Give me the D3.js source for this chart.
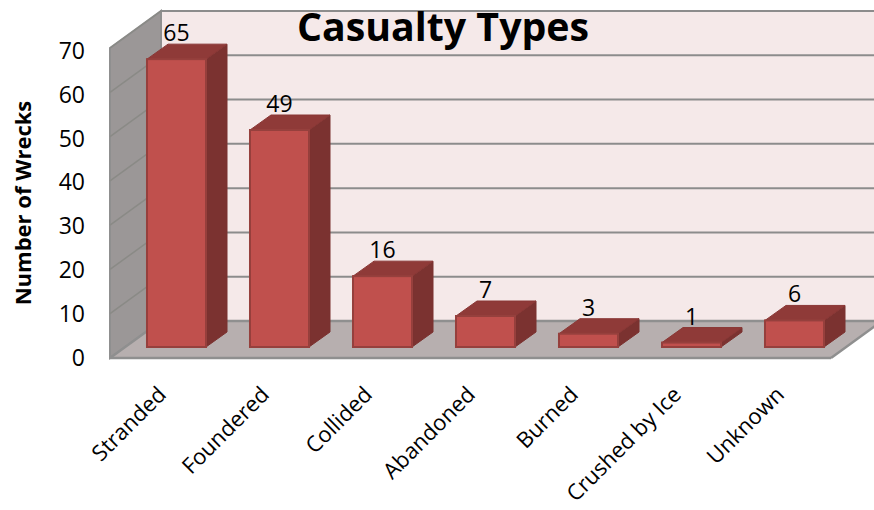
<!DOCTYPE html>
<html>
<head>
<meta charset="utf-8">
<script src="https://cdn.jsdelivr.net/npm/d3@7/dist/d3.min.js"></script>
<style>html,body{margin:0;padding:0;background:#fff}svg{display:block}text{font-family:"Open Sans",Lato,sans-serif;fill:#000}</style>
</head>
<body>
<svg id="c" width="874" height="510"></svg>
<script>
const categories = ["Stranded","Foundered","Collided","Abandoned","Burned","Crushed by Ice","Unknown"];
const wrecks = [65,49,16,7,3,1,6];
const yTicks = [0,10,20,30,40,50,60,70];
const chartTitle = "Casualty Types";
const yTitle = "Number of Wrecks";

const svg = d3.select("#c");
const y = d3.scaleLinear().domain([0,70]).range([358,48]);
const yLabels = d3.scaleLinear().domain([0,70]).range([358,51]);
const x = d3.scaleBand().domain(categories).range([110,831]).paddingInner(0.427).paddingOuter(0.2135);
const DX = 51, DY = -37;            // depth of the 3D box
const BX = 15, BY = -11;            // bar front inset from floor front edge
const DBX = 21, DBY = -15;          // bar depth
const WALL_RIGHT = 882;
const pts = a => a.map(p => p.join(",")).join(" ");
const y0 = y(0), yMax = y(70);

// back wall
svg.append("polygon").attr("points", pts([[110+DX,yMax+DY],[WALL_RIGHT,yMax+DY],[WALL_RIGHT,y0+DY],[110+DX,y0+DY]]))
  .attr("fill","#f5e9e9").attr("stroke","#a6a6a6").attr("stroke-width",2);
// side wall
svg.append("polygon").attr("points", pts([[110,yMax],[110+DX,yMax+DY],[110+DX,y0+DY],[110,y0]]))
  .attr("fill","#9b9797").attr("stroke","#8f8f8f").attr("stroke-width",2);
// floor
svg.append("polygon").attr("points", pts([[110,y0],[831,y0],[831+DX,y0+DY],[110+DX,y0+DY]]))
  .attr("fill","#b7afaf");
// gridlines
svg.append("g").selectAll("line.back").data(yTicks.filter(d=>d>0)).join("line")
  .attr("x1",110+DX).attr("x2",WALL_RIGHT).attr("y1",d=>y(d)+DY).attr("y2",d=>y(d)+DY)
  .attr("stroke","#8c8c8c").attr("stroke-width",2);
svg.append("g").selectAll("line.side").data(yTicks.filter(d=>d>0)).join("line")
  .attr("x1",110).attr("x2",110+DX).attr("y1",d=>y(d)).attr("y2",d=>y(d)+DY)
  .attr("stroke","#8a8a86").attr("stroke-width",1.5);
// floor edges
const edges=[[[110,y0],[831,y0]],[[831,y0],[831+DX,y0+DY]],[[110,y0],[110+DX,y0+DY]],[[110+DX,y0+DY],[WALL_RIGHT,y0+DY]]];
svg.append("g").selectAll("line").data(edges).join("line")
  .attr("x1",d=>d[0][0]).attr("y1",d=>d[0][1]).attr("x2",d=>d[1][0]).attr("y2",d=>d[1][1])
  .attr("stroke","#8f8f8f").attr("stroke-width",2.5);

// bars
const bars = svg.append("g").selectAll("g").data(categories.map((c,i)=>({c,v:wrecks[i]}))).join("g");
const bw = x.bandwidth();
const L = d=>x(d.c)+BX, R = d=>L(d)+bw, T = d=>y(d.v)+BY, B = y0+BY;
bars.append("polygon").attr("fill","#7b3230").attr("stroke","#7b3230")
  .attr("points",d=>pts([[R(d),T(d)],[R(d)+DBX,T(d)+DBY],[R(d)+DBX,B+DBY],[R(d),B]]));
bars.append("polygon").attr("fill","#8f3a38").attr("stroke","#8a3735")
  .attr("points",d=>pts([[L(d),T(d)],[L(d)+DBX,T(d)+DBY],[R(d)+DBX,T(d)+DBY],[R(d),T(d)]]));
bars.append("rect").attr("x",L).attr("y",T).attr("width",bw).attr("height",d=>B-T(d))
  .attr("fill","#c0504d").attr("stroke","#96403d").attr("stroke-width",2);
bars.append("text").attr("x",d=>L(d)+bw/2).attr("y",d=>T(d)+DBY-3).attr("text-anchor","middle")
  .attr("font-size",23).text(d=>d.v);

// y axis
const gy = svg.append("g").attr("transform","translate(110,0)")
  .call(d3.axisLeft(yLabels).tickValues(yTicks).tickSize(0).tickPadding(25));
gy.select(".domain").remove();
gy.selectAll("text").attr("font-size",23).style("font-family","Open Sans").attr("fill","#000");

// x axis
const gx = svg.append("g").attr("transform",`translate(${BX},${y0})`)
  .call(d3.axisBottom(x).tickSize(0).tickPadding(0));
gx.select(".domain").remove();
gx.selectAll("text").attr("font-size",22).style("font-family","Open Sans").attr("fill","#000")
  .attr("text-anchor","end").attr("dy",0)
  .attr("transform","translate(-9,38) rotate(-45)");

// titles
svg.append("text").attr("x",443).attr("y",41).attr("text-anchor","middle")
  .attr("font-size",39.3).attr("font-weight",700).text(chartTitle);
svg.append("text").attr("transform","translate(31,203) rotate(-90)").attr("text-anchor","middle")
  .attr("font-size",22).attr("font-weight",700).text(yTitle);
</script>
</body>
</html>
